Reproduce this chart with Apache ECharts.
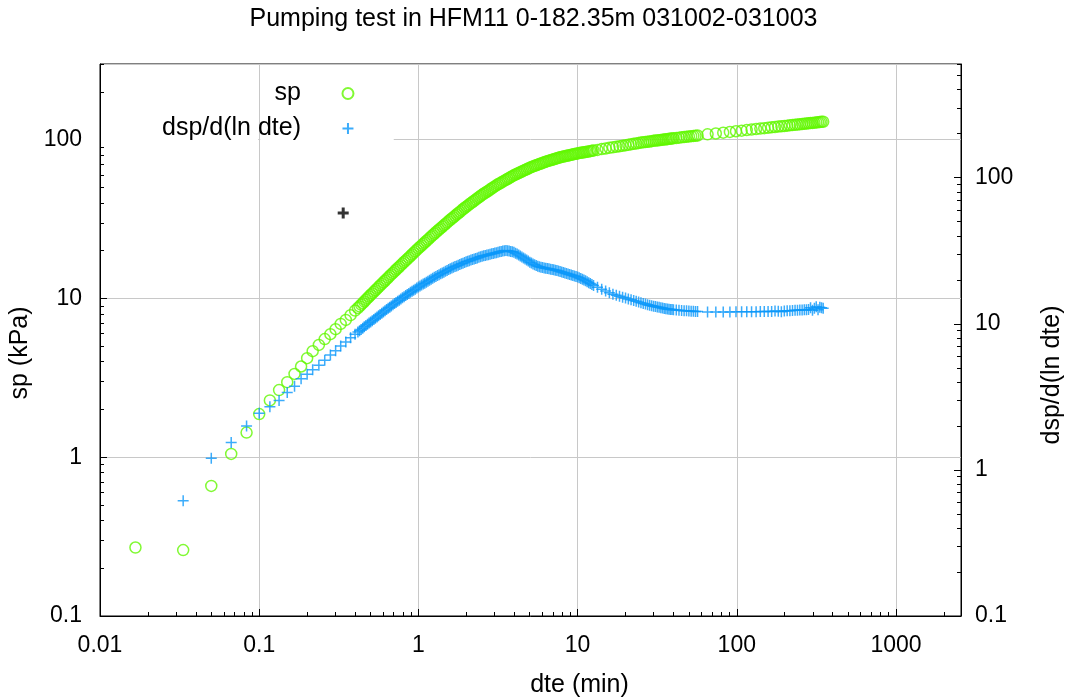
<!DOCTYPE html>
<html><head><meta charset="utf-8">
<script src="https://cdn.jsdelivr.net/npm/echarts@6/dist/echarts.min.js"></script>
<style>html,body{margin:0;padding:0;background:#fff}#c{width:1067px;height:700px}</style>
</head><body><div id="c"></div>
<script>
const chartTitle = 'Pumping test in HFM11 0-182.35m 031002-031003';
const seriesNames = ['sp', 'dsp/d(ln dte)'];
const xName = 'dte (min)';
const yLeftName = 'sp (kPa)';
const yRightName = 'dsp/d(ln dte)';

// elapsed time (min)
const dte = [
  0.0167, 0.0333, 0.05, 0.0667, 0.0833, 0.1, 0.1167, 0.1333, 0.15, 0.1667, 0.1833, 0.2, 0.2167, 0.237, 0.258, 0.28, 0.302, 0.325, 0.35, 0.375, 0.40,
  0.417, 0.437, 0.457, 0.479, 0.501, 0.525, 0.550, 0.575, 0.603, 0.631, 0.661, 0.692, 0.724, 0.759, 0.794, 0.832, 0.871, 0.912, 0.955,
  1.000, 1.047, 1.096, 1.148, 1.202, 1.259, 1.318, 1.380, 1.445, 1.514, 1.585, 1.660, 1.738, 1.820, 1.905, 1.995, 2.089, 2.188, 2.291, 2.399,
  2.512, 2.630, 2.754, 2.884, 3.020, 3.162, 3.311, 3.467, 3.631, 3.802, 3.981, 4.169, 4.365, 4.571, 4.786, 5.012, 5.248, 5.495, 5.754, 6.026,
  6.310, 6.607, 6.918, 7.244, 7.586, 7.943, 8.318, 8.710, 9.120, 9.550, 10.00, 10.47, 10.96, 11.48, 12.02, 12.59,
  13.33, 14.17, 15.00, 15.83, 16.67, 17.50, 18.33, 19.17, 20.00, 20.83, 21.67, 22.50, 23.33, 24.17, 25.00, 25.83, 26.67, 27.50, 28.33, 29.17,
  30.00, 30.83, 31.67, 32.50, 33.33, 34.17, 35.00, 35.83, 36.67, 37.50, 38.33, 39.17, 40.00, 41.67, 43.33, 45.00, 46.67, 48.33, 50.00, 51.67,
  53.33, 55.00, 56.67,
  65.5, 73.83, 82.17, 90.5, 98.83, 107.2, 115.5, 123.8, 132.2, 140.5, 148.8, 157.2, 165.5, 173.8, 182.2, 190.5, 198.8, 207.2, 215.5, 223.8,
  232.2, 240.5, 248.8, 257.2, 265.5, 273.8, 282.2, 290.5, 298.8, 307.2, 315.5, 323.8, 332.2, 340.5, 348.8,
  0.427, 0.447, 0.468, 0.490, 0.513, 0.537, 0.562, 0.589, 0.617, 0.646, 0.676, 0.708, 0.741, 0.776, 0.813, 0.851, 0.891, 0.933, 0.977,
  1.023, 1.072, 1.122, 1.175, 1.230, 1.288, 1.349, 1.413, 1.479, 1.549, 1.622, 1.698, 1.778, 1.862, 1.950, 2.042, 2.138, 2.239, 2.344, 2.455,
  2.570, 2.692, 2.818, 2.951, 3.090, 3.236, 3.388, 3.548, 3.715, 3.890, 4.074, 4.266, 4.467, 4.677, 4.898, 5.129, 5.370, 5.623, 5.888, 6.166,
  6.457, 6.761, 7.079, 7.413, 7.762, 8.128, 8.511, 8.913, 9.333, 9.772, 10.23, 10.72, 11.22, 11.75, 12.30
];
// pressure change sp (kPa)
const sp = [
  0.27, 0.26, 0.66, 1.05, 1.43, 1.87, 2.28, 2.65, 2.97, 3.35, 3.73, 4.21, 4.66, 5.10, 5.55, 5.96, 6.41, 6.92, 7.33, 7.85, 8.39,
  8.71, 9.14, 9.57, 10.05, 10.52, 11.02, 11.53, 12.08, 12.65, 13.24, 13.87, 14.49, 15.17, 15.85, 16.60, 17.34, 18.11, 18.92, 19.82,
  20.70, 21.58, 22.54, 23.50, 24.55, 25.59, 26.67, 27.73, 28.91, 30.06, 31.33, 32.51, 33.81, 35.08, 36.48, 37.84, 39.17, 40.55, 41.98, 43.45,
  44.98, 46.34, 47.75, 49.32, 50.82, 52.36, 53.70, 55.21, 56.62, 58.21, 59.70, 61.09, 62.37, 63.83, 65.16, 66.69, 67.92, 69.02, 70.31, 71.45,
  72.78, 73.79, 74.82, 75.86, 76.91, 77.98, 78.70, 79.62, 80.35, 81.28, 82.04, 82.79, 83.37, 84.14, 84.72, 85.51,
  86.30, 87.30, 88.10, 88.92, 89.64, 90.36, 90.99, 91.62, 92.26, 92.90, 93.54, 94.19, 94.74, 95.28, 95.94, 96.38, 96.83, 97.16, 97.50, 97.95,
  98.40, 98.74, 99.08, 99.43, 99.77, 100.1, 100.4, 100.7, 100.9, 101.3, 101.6, 101.9, 102.1, 102.6, 103.1, 103.6, 104.1, 104.5, 105.0, 105.3,
  105.7, 106.0, 106.4,
  108.1, 109.5, 110.8, 112.0, 113.1, 114.1, 115.1, 115.9, 116.8, 117.6, 118.3, 119.0, 119.7, 120.3, 121.0, 121.5, 122.1, 122.7, 123.2, 123.7,
  124.2, 124.7, 125.1, 125.6, 126.1, 126.5, 126.9, 127.3, 127.7, 128.1, 128.5, 128.9, 129.2, 129.6, 129.9,
  8.92, 9.35, 9.81, 10.28, 10.77, 11.27, 11.80, 12.36, 12.94, 13.55, 14.18, 14.83, 15.51, 16.22, 16.97, 17.72, 18.51, 19.37, 20.26,
  21.14, 22.06, 23.02, 24.02, 25.07, 26.13, 27.20, 28.32, 29.48, 30.69, 31.92, 33.16, 34.44, 35.78, 37.16, 38.50, 39.86, 41.26, 42.71, 44.21,
  45.66, 47.04, 48.53, 50.07, 51.59, 53.03, 54.45, 55.91, 57.41, 58.95, 60.39, 61.73, 63.10, 64.49, 65.92, 67.30, 68.47, 69.66, 70.88, 72.11,
  73.28, 74.30, 75.34, 76.38, 77.44, 78.34, 79.16, 79.98, 80.81, 81.66, 82.41, 83.08, 83.75, 84.43, 85.11
];
// derivative dsp/d(ln dte)
const dsp = [
  null, 0.616, 1.20, 1.54, 2.00, 2.44, 2.71, 2.98, 3.39, 3.74, 4.21, 4.52, 4.84, 5.21, 5.62, 6.11, 6.55, 7.05, 7.52, 8.04, 8.47,
  8.79, 9.14, 9.53, 9.91, 10.30, 10.72, 11.14, 11.59, 12.05, 12.53, 13.00, 13.49, 14.00, 14.52, 15.07, 15.60, 16.14, 16.67, 17.26,
  17.86, 18.41, 18.97, 19.59, 20.18, 20.80, 21.38, 21.98, 22.54, 23.17, 23.82, 24.38, 24.89, 25.47, 26.00, 26.61, 27.04, 27.54, 27.99, 28.51,
  28.97, 29.38, 29.72, 30.13, 30.48, 30.90, 31.26, 31.62, 31.62, 31.26, 30.90, 29.99, 29.11, 28.25, 27.29, 26.42, 25.70, 25.06, 24.55, 24.27,
  23.99, 23.77, 23.55, 23.28, 22.96, 22.65, 22.28, 21.93, 21.58, 21.23, 20.89, 20.42, 19.95, 19.41, 18.84, 18.28,
  17.78, 17.22, 16.75, 16.29, 15.96, 15.67, 15.42, 15.21, 15.00, 14.79, 14.60, 14.42, 14.26, 14.09, 13.93, 13.79, 13.65, 13.52, 13.41, 13.30,
  13.20, 13.11, 13.03, 12.96, 12.88, 12.81, 12.74, 12.69, 12.64, 12.60, 12.55, 12.51, 12.47, 12.42, 12.38, 12.34, 12.30, 12.26, 12.22, 12.20,
  12.17, 12.15, 12.13,
  12.05, 12.02, 12.02, 12.05, 12.08, 12.08, 12.11, 12.11, 12.11, 12.13, 12.13, 12.13, 12.16, 12.25, 12.19, 12.10, 12.25, 12.27, 12.30, 12.33,
  12.36, 12.39, 12.42, 12.45, 12.47, 12.50, 12.53, 12.90, 12.40, 12.80, 13.10, 12.50, 13.00, 12.90, 12.80,
  8.97, 9.34, 9.72, 10.11, 10.51, 10.93, 11.37, 11.82, 12.29, 12.77, 13.25, 13.75, 14.26, 14.80, 15.34, 15.87, 16.41, 16.97, 17.56,
  18.14, 18.69, 19.28, 19.89, 20.49, 21.09, 21.68, 22.26, 22.86, 23.50, 24.10, 24.64, 25.18, 25.74, 26.31, 26.83, 27.29, 27.77, 28.25, 28.74,
  29.18, 29.55, 29.93, 30.31, 30.69, 31.08, 31.44, 31.70, 31.44, 31.08, 30.45, 29.55, 28.68, 27.77, 26.86, 26.06, 25.38, 24.81, 24.41, 24.13,
  23.88, 23.66, 23.42, 23.12, 22.81, 22.47, 22.11, 21.76, 21.41, 21.06, 20.66, 20.19, 19.68, 19.13, 18.56
];
// stray black marker in the plot
const strayPoint = [[0.337, 34.6]];

const xMinorTicks = [0.02,0.03,0.04,0.05,0.06,0.07,0.08,0.09, 0.2,0.3,0.4,0.5,0.6,0.7,0.8,0.9, 2,3,4,5,6,7,8,9, 20,30,40,50,60,70,80,90, 200,300,400,500,600,700,800,900, 2000];
const yLeftMinorTicks = [0.2,0.3,0.4,0.5,0.6,0.7,0.8,0.9, 2,3,4,5,6,7,8,9, 20,30,40,50,60,70,80,90, 200,300];
const yRightMinorTicks = [0.2,0.3,0.4,0.5,0.6,0.7,0.8,0.9, 2,3,4,5,6,7,8,9, 20,30,40,50,60,70,80,90, 200,300,400,500,600];

const FONT = 'Liberation Sans, Arial, Helvetica, sans-serif';
const GREEN = '#62f800';
const BLUE = '#0a97fa';
const PLUS = 'path://M0,5L10,5M5,0L5,10';

const spData = dte.map((t, i) => [t, sp[i]]);
const dspData = dte.map((t, i) => [t, dsp[i]]).filter(d => d[1] != null);

const fmt = v => String(Number(Number(v).toPrecision(6)));

const majorTick = {show: true, inside: true, length: 7, lineStyle: {color: '#000', width: 1}};
const minorAxis = (vals) => ({
  axisLine: {show: false},
  axisLabel: {show: false},
  splitLine: {show: false},
  axisTick: {show: true, inside: true, length: 4, lineStyle: {color: '#000', width: 1}, customValues: vals}
});

const chart = echarts.init(document.getElementById('c'), null, {renderer: 'canvas'});
chart.setOption({
  animation: false,
  backgroundColor: '#fff',
  textStyle: {fontFamily: FONT},
  title: {
    text: chartTitle, left: 'center', top: 2,
    textStyle: {fontSize: 25, fontWeight: 'normal', color: '#000', fontFamily: FONT}
  },
  legend: {
    orient: 'vertical', align: 'right', left: 157, top: 76,
    itemWidth: 84, itemHeight: 11, itemGap: 10, selectedMode: false,
    textStyle: {fontSize: 25, color: '#000', fontFamily: FONT},
    data: seriesNames
  },
  grid: {
    left: 100, right: 106, top: 64, bottom: 84, containLabel: false, outerBoundsMode: 'none',
    show: true, borderColor: '#000', borderWidth: 1, backgroundColor: 'rgba(0,0,0,0)'
  },
  xAxis: [
    {
      type: 'log', logBase: 10, min: 0.01, max: 2560, interval: 1, position: 'bottom',
      name: xName, nameLocation: 'middle', nameGap: 57,
      nameTextStyle: {fontSize: 25, color: '#000', padding: [0, 0, 0, 98]},
      axisLine: {show: true, lineStyle: {color: '#000', width: 1}},
      axisTick: majorTick,
      axisLabel: {fontSize: 23, color: '#000', margin: 18, showMaxLabel: false, formatter: fmt},
      splitLine: {show: true, lineStyle: {color: '#c8c8c8', width: 1}}
    },
    Object.assign({type: 'log', logBase: 10, min: 0.01, max: 2560, position: 'bottom'}, minorAxis(xMinorTicks))
  ],
  yAxis: [
    {
      type: 'log', logBase: 10, min: 0.1, max: 300, interval: 1, position: 'left',
      name: yLeftName, nameLocation: 'middle', nameGap: 54,
      nameTextStyle: {fontSize: 25, color: '#000', padding: [0, 26, 0, 0]},
      axisLine: {show: true, lineStyle: {color: '#000', width: 1}},
      axisTick: majorTick,
      axisLabel: {fontSize: 23, color: '#000', margin: 18, showMaxLabel: false, formatter: fmt},
      splitLine: {show: true, lineStyle: {color: '#c8c8c8', width: 1}}
    },
    {
      type: 'log', logBase: 10, min: 0.1, max: 600, interval: 1, position: 'right',
      name: yRightName, nameLocation: 'middle', nameGap: 79,
      nameTextStyle: {fontSize: 25, color: '#000', padding: [0, 70, 0, 0]},
      axisLine: {show: true, lineStyle: {color: '#000', width: 1}},
      axisTick: majorTick,
      axisLabel: {fontSize: 23, color: '#000', margin: 14, showMaxLabel: false, formatter: fmt},
      splitLine: {show: false}
    },
    Object.assign({type: 'log', logBase: 10, min: 0.1, max: 300, position: 'left'}, minorAxis(yLeftMinorTicks)),
    Object.assign({type: 'log', logBase: 10, min: 0.1, max: 600, position: 'right'}, minorAxis(yRightMinorTicks))
  ],
  series: [
    {
      name: seriesNames[0], type: 'scatter', xAxisIndex: 0, yAxisIndex: 0,
      symbol: 'circle', symbolSize: 11, silent: true,
      itemStyle: {color: 'rgba(0,0,0,0)', borderColor: GREEN, borderWidth: 1.5},
      data: spData, z: 2
    },
    {
      name: seriesNames[1], type: 'scatter', xAxisIndex: 0, yAxisIndex: 1,
      symbol: PLUS, symbolSize: 11, silent: true,
      itemStyle: {color: 'rgba(0,0,0,0)', borderColor: BLUE, borderWidth: 1.5},
      data: dspData, z: 3
    },
    {
      name: 'marker', type: 'scatter', xAxisIndex: 0, yAxisIndex: 0,
      symbol: PLUS, symbolSize: 11, silent: true,
      itemStyle: {color: 'rgba(0,0,0,0)', borderColor: '#000', borderWidth: 3},
      data: strayPoint, z: 3
    }
  ]
});

// white gap in the 100 gridline behind the key (gnuplot key area)
const yG = chart.convertToPixel({yAxisIndex: 0}, 100);
const x0 = chart.convertToPixel({xAxisIndex: 0}, 0.01);
const xv = chart.convertToPixel({xAxisIndex: 0}, 0.1);
const xe = chart.convertToPixel({xAxisIndex: 0}, 0.7);
chart.setOption({
  graphic: [
    {type: 'rect', z: 1, silent: true, shape: {x: x0 + 1, y: yG - 1.5, width: xv - x0 - 2, height: 3}, style: {fill: '#fff'}},
    {type: 'rect', z: 1, silent: true, shape: {x: xv + 1, y: yG - 1.5, width: xe - xv - 1, height: 3}, style: {fill: '#fff'}}
  ]
});
</script>
</body></html>
